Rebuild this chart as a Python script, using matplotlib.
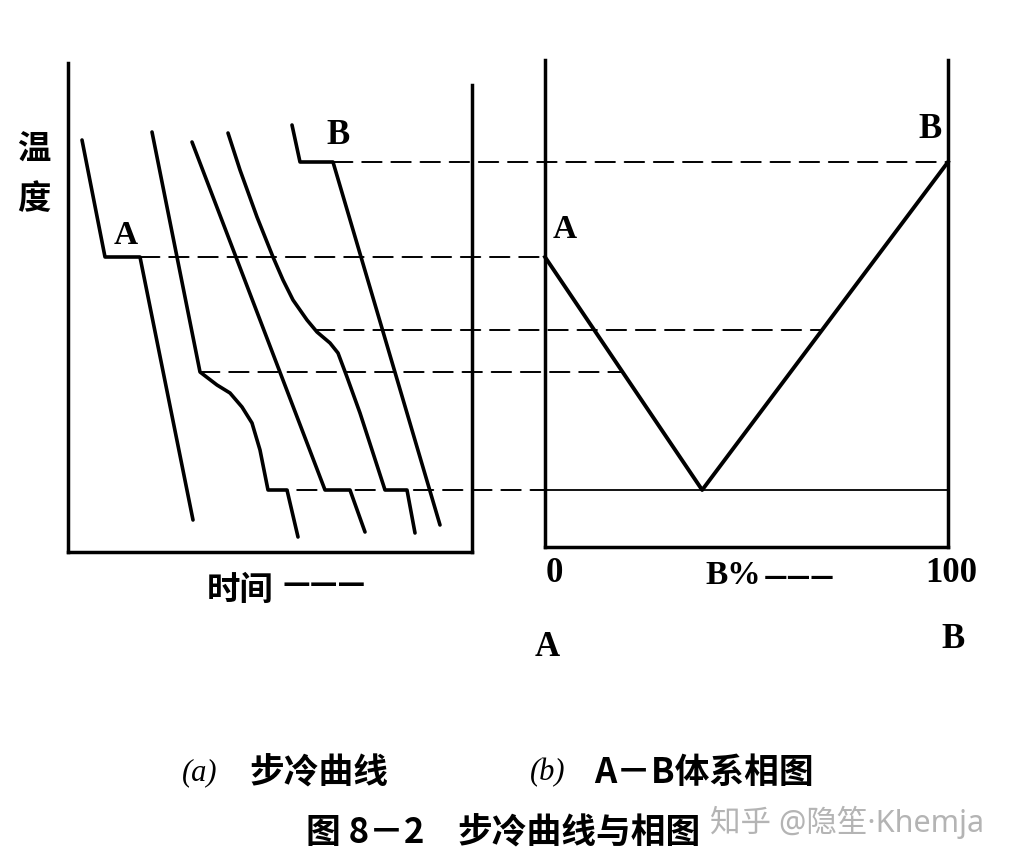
import numpy as np
import matplotlib
matplotlib.use('Agg')
import matplotlib.pyplot as plt
from matplotlib.patches import ConnectionPatch

plt.rcParams['font.family'] = ['Noto Sans CJK SC', 'DejaVu Sans']

# 步冷曲线: 时间 t, 温度 T
t_a = [14, 37, 72, 125]
T_a = [410, 293, 293, 30]
t_19 = [84, 132, 149, 162, 174, 184, 192, 200, 219, 230]
T_19 = [418, 178, 165, 157, 143, 127, 100, 60, 60, 13]
t_39 = [124, 257, 282, 297]
T_39 = [408, 60, 60, 18]
t_69 = [160, 172, 189, 205, 215, 225, 239, 249, 262, 270, 279, 292, 305, 317, 339, 347]
T_69 = [417, 380, 333, 293, 270, 250, 230, 218, 207, 197, 173, 137, 97, 60, 60, 17]
t_b = [224, 232, 265, 372]
T_b = [425, 388, 388, 25]
curves = [(t_a, T_a), (t_19, T_19), (t_39, T_39), (t_69, T_69), (t_b, T_b)]

# A-B 相图: B% 与液相线温度
comp = [0, 39, 100]
T_liq = [293, 60, 388]
T_eut = 60

# 水平虚线: 温度, 步冷曲线上的起点时间
dash_T = [388, 293, 220, 178, 60]
dash_t0 = [265, 72, 247, 132, 200]
dash_comp = [100, 0,
             np.interp(220, T_liq[1:], comp[1:]),
             np.interp(178, T_liq[1::-1], comp[1::-1]),
             0]

W, H = 1012, 868
fig = plt.figure(figsize=(W / 100, H / 100), dpi=100)


def px(x, y):
    return x / W, 1 - y / H


ax1 = fig.add_axes([68 / W, (H - 552) / H, 404 / W, 489 / H])
ax1.set_xlim(0, 404)
ax1.set_ylim(-2, 487)
ax2 = fig.add_axes([545 / W, (H - 547) / H, 403 / W, 487 / H])
ax2.set_xlim(0, 100)
ax2.set_ylim(3, 490)

for ax in (ax1, ax2):
    ax.set_xticks([])
    ax.set_yticks([])
    ax.spines['top'].set_visible(False)
    for s in ('left', 'right', 'bottom'):
        ax.spines[s].set_linewidth(2.5)
        ax.spines[s].set_capstyle('projecting')
ax1.spines['right'].set_bounds(-2, 465)

for t, T in curves:
    ax1.plot(t, T, color='black', lw=2.6, solid_joinstyle='round',
             solid_capstyle='round', clip_on=False)

ax2.plot(comp, T_liq, color='black', lw=2.8, clip_on=False)
ax2.plot([0, 100], [T_eut, T_eut], color='black', lw=1.3, clip_on=False)

for T, t0, c in zip(dash_T, dash_t0, dash_comp):
    con = ConnectionPatch(xyA=(t0, T), coordsA='data', axesA=ax1,
                          xyB=(c, T), coordsB='data', axesB=ax2,
                          color='black', lw=1.4, linestyle=(0, (10, 5)))
    fig.add_artist(con)

serif = dict(family='Liberation Serif', weight='bold', color='black')
cjk = dict(weight='bold', color='black')

ax1.text(58, 314, 'A', fontsize=24, ha='center', va='center', **serif)
ax1.text(270, 414, 'B', fontsize=25, ha='center', va='center', **serif)
ax2.text(5, 321, 'A', fontsize=24, ha='center', va='center', **serif)
ax2.text(95.5, 421, 'B', fontsize=25, ha='center', va='center', **serif)

fig.text(*px(34, 150), '温', fontsize=24, ha='center', va='center', **cjk)
fig.text(*px(34, 200), '度', fontsize=24, ha='center', va='center', **cjk)
fig.text(*px(207, 590), '时间', fontsize=24, ha='left', va='center', **cjk)
fig.text(*px(324, 584), '———', fontsize=20, ha='center', va='center',
         family='DejaVu Sans', weight='bold')

fig.text(*px(554, 574), '0', fontsize=25, ha='center', va='center', **serif)
fig.text(*px(733, 575), 'B%', fontsize=24, ha='center', va='center', **serif)
fig.text(*px(799, 577), '———', fontsize=17, ha='center', va='center',
         family='DejaVu Sans', weight='bold')
fig.text(*px(951, 573), '100', fontsize=25, ha='center', va='center', **serif)
fig.text(*px(547, 648), 'A', fontsize=25, ha='center', va='center', **serif)
fig.text(*px(953, 639), 'B', fontsize=25, ha='center', va='center', **serif)

fig.text(*px(182, 773), '(a)', fontsize=22, ha='left', va='center',
         family='Liberation Serif', style='italic')
fig.text(*px(249, 773), '步冷曲线', fontsize=25, ha='left', va='center', **cjk)
fig.text(*px(530, 773), '(b)', fontsize=22, ha='left', va='center',
         family='Liberation Serif', style='italic')
fig.text(*px(594, 773), 'A－B体系相图', fontsize=25, ha='left', va='center', **cjk)
fig.text(*px(306, 833), '图 8－2', fontsize=25, ha='left', va='center', **cjk)
fig.text(*px(457, 833), '步冷曲线与相图', fontsize=25, ha='left', va='center', **cjk)
fig.text(*px(710, 822), '知乎 @隐笙·Khemja', fontsize=22, ha='left', va='center',
         color='#b4b4b4', family=['Noto Sans', 'Noto Sans CJK SC'])

fig.savefig('out.png', dpi=100, facecolor='white')
